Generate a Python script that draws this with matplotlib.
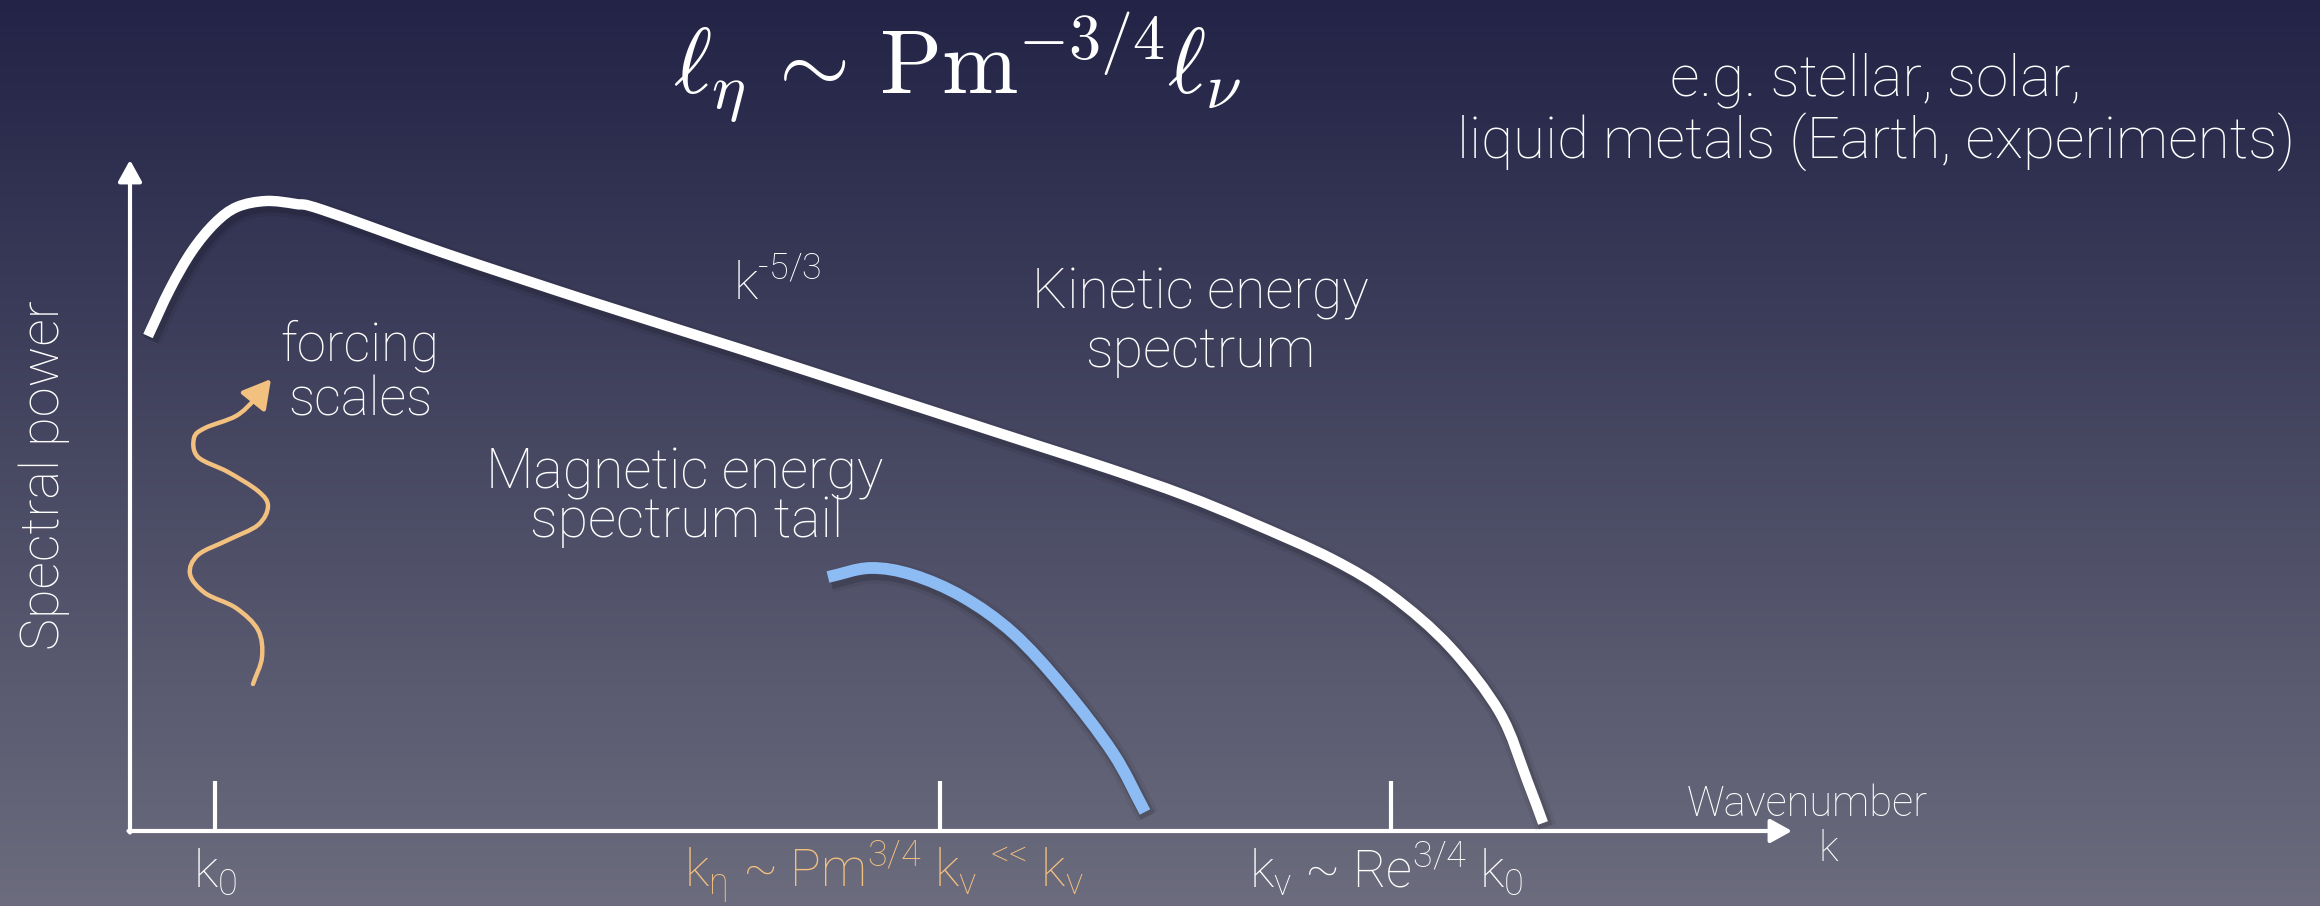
import matplotlib.pyplot as plt
import matplotlib.patheffects as pe
import numpy as np
from matplotlib.path import Path
from matplotlib.patches import PathPatch, FancyArrowPatch

# schematic spectra, x = wavenumber position, y = spectral power (arbitrary units)
kin_k = [0.18, 0.40, 0.62, 0.85, 1.07, 1.36, 1.66, 1.93, 3.14, 4.62, 6.10,
         7.58, 9.06, 9.80, 10.54, 11.20, 12.02, 12.61, 13.20, 13.70, 13.97, 14.13]
kin_p = [4.95, 5.42, 5.80, 6.08, 6.24, 6.30, 6.27, 6.21, 5.78, 5.29, 4.82,
         4.34, 3.86, 3.62, 3.36, 3.09, 2.72, 2.36, 1.84, 1.18, 0.51, 0.08]

mag_k = [6.98, 7.40, 7.83, 8.33, 8.83, 9.33, 9.83, 10.15]
mag_p = [2.54, 2.63, 2.56, 2.34, 1.98, 1.44, 0.78, 0.19]

# wiggly forcing arrow
wave_x = [1.23, 1.32, 1.28, 1.06, 0.75, 0.60, 0.68, 0.98, 1.28, 1.38, 1.28,
          0.98, 0.68, 0.64, 0.75, 1.06, 1.25, 1.41]
wave_y = [1.47, 1.74, 2.01, 2.23, 2.38, 2.57, 2.76, 2.91, 3.06, 3.25, 3.40,
          3.59, 3.74, 3.93, 4.03, 4.15, 4.32, 4.52]

tick_k = [0.85, 8.10, 12.61]
tick_labels = [r'k$_0$',
               r'k$_\eta$ ~ Pm$^{3/4}$ k$_v$ $^{\text{<<}}$ k$_v$',
               r'k$_v$ ~ Re$^{3/4}$ k$_0$']
tick_label_k = [0.85, 7.54, 12.56]
tick_colors = ['white', '#f2c07f', 'white']

ORANGE = '#f2c07f'
BLUE = '#8dbcf4'

plt.rcParams['font.family'] = ['Roboto', 'DejaVu Sans']
plt.rcParams['font.weight'] = 'light'
plt.rcParams['mathtext.fontset'] = 'custom'
plt.rcParams['mathtext.rm'] = 'Roboto:light'
plt.rcParams['mathtext.it'] = 'Roboto:light'
plt.rcParams['mathtext.sf'] = 'Roboto:light'
plt.rcParams['mathtext.default'] = 'regular'


def smooth_path(xs, ys):
    # catmull-rom control points -> cubic bezier path
    p = np.column_stack([xs, ys])
    ext = np.vstack([2 * p[0] - p[1], p, 2 * p[-1] - p[-2]])
    verts = [p[0]]
    codes = [Path.MOVETO]
    for i in range(1, len(ext) - 2):
        p0, p1, p2, p3 = ext[i - 1], ext[i], ext[i + 1], ext[i + 2]
        verts += [p1 + (p2 - p0) / 6, p2 - (p3 - p1) / 6, p2]
        codes += [Path.CURVE4] * 3
    return Path(verts, codes)


def shadow(lw):
    return [pe.Stroke(offset=(2, -3), linewidth=lw + 8, foreground='black', alpha=0.06),
            pe.Stroke(offset=(2, -3), linewidth=lw + 3, foreground='black', alpha=0.12),
            pe.Normal()]


fig = plt.figure(figsize=(23.2, 9.06), dpi=100)
ax = fig.add_axes([0, 0, 1, 1])
x0, x1, y0, y1 = -1.30, 21.90, -0.75, 8.31
ax.set_xlim(x0, x1)
ax.set_ylim(y0, y1)
ax.axis('off')

# background gradient
top = np.array([34, 35, 70]) / 255
bottom = np.array([108, 108, 126]) / 255
t = np.linspace(0, 1, 400)[:, None]
grad = top + (bottom - top) * t
ax.imshow(grad[:, None, :].repeat(2, axis=1), extent=[x0, x1, y0, y1],
          aspect='auto', origin='upper', zorder=0)

# axes arrows
head = '-|>,head_length=0.65,head_width=0.36'
ax.annotate('', xy=(0, 6.71), xytext=(0, -0.015),
            arrowprops=dict(arrowstyle=head, color='white', lw=3,
                            shrinkA=0, shrinkB=0, mutation_scale=20))
ax.annotate('', xy=(16.62, 0), xytext=(-0.015, 0),
            arrowprops=dict(arrowstyle=head, color='white', lw=3,
                            shrinkA=0, shrinkB=0, mutation_scale=20))
ax.vlines(tick_k, 0, 0.50, color='white', lw=3)

# spectra
kin = PathPatch(smooth_path(kin_k, kin_p), fill=False, ec='white', lw=7.5,
                capstyle='butt', joinstyle='round', zorder=3)
kin.set_path_effects(shadow(7.5))
ax.add_patch(kin)
mag = PathPatch(smooth_path(mag_k, mag_p), fill=False, ec=BLUE, lw=8.5,
                capstyle='butt', joinstyle='round', zorder=3)
mag.set_path_effects(shadow(8.5))
ax.add_patch(mag)

wave = FancyArrowPatch(path=smooth_path(wave_x, wave_y),
                       arrowstyle='-|>,head_length=0.85,head_width=0.48',
                       mutation_scale=20, color=ORANGE, lw=3.2, zorder=3)
ax.add_patch(wave)

# labels
txt = dict(color='white', fontsize=40, ha='center', va='baseline')
ax.text(8.27, 7.38,
        r'$\mathit{\ell_{\eta}}\,\mathit{\sim}\,\mathrm{Pm}^{\mathrm{-3/4}}\mathit{\ell_{\nu}}$',
        math_fontfamily='cm', fontsize=66, color='white', ha='center', va='baseline')
ax.text(17.46, 7.36, 'e.g. stellar, solar,', color='white', fontsize=42,
        ha='center', va='baseline')
ax.text(17.46, 6.73, 'liquid metals (Earth, experiments)', color='white',
        fontsize=42, ha='center', va='baseline')
ax.text(-0.86, 3.56, 'Spectral power', rotation=90, color='white', fontsize=39,
        ha='center', va='center')
ax.text(2.30, 4.71, 'forcing', color='white', fontsize=38, ha='center', va='baseline')
ax.text(2.30, 4.15, 'scales', color='white', fontsize=38, ha='center', va='baseline')
ax.text(5.55, 3.43, 'Magnetic energy', **txt)
ax.text(5.57, 2.94, 'spectrum tail', **txt)
ax.text(10.70, 5.23, 'Kinetic energy', **txt)
ax.text(10.70, 4.64, 'spectrum', **txt)
ax.text(6.03, 5.31, r'k$^{\text{-}5/3}$', color='white', fontsize=37,
        ha='left', va='baseline')
ax.text(16.77, 0.15, 'Wavenumber', color='white', fontsize=30, ha='center', va='baseline')
ax.text(16.98, -0.30, 'k', color='white', fontsize=30, ha='center', va='baseline')

for xk, lab, col in zip(tick_label_k, tick_labels, tick_colors):
    ax.text(xk, -0.56, lab, color=col, fontsize=37, ha='center', va='baseline')

fig.savefig('out.png', dpi=100)
